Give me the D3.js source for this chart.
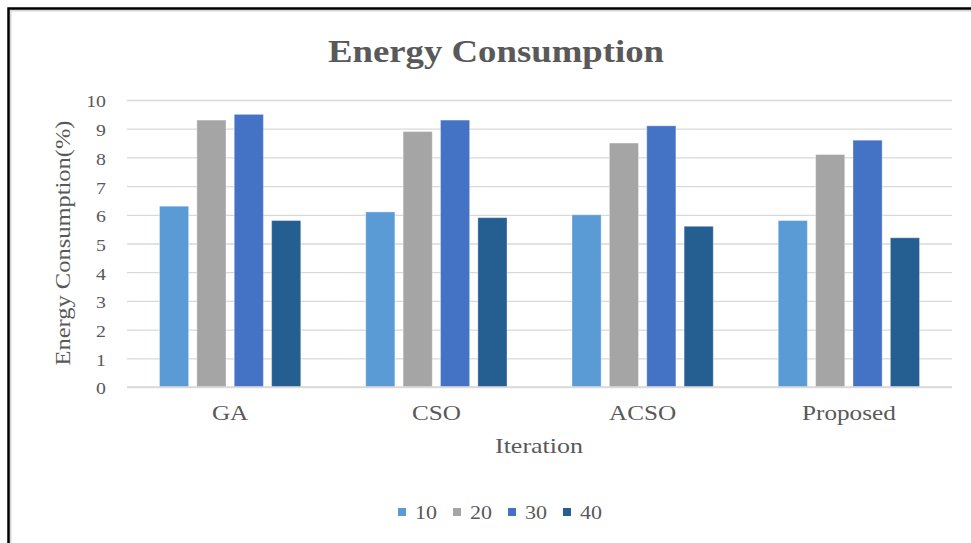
<!DOCTYPE html>
<html><head><meta charset="utf-8">
<script src="https://cdn.jsdelivr.net/npm/d3@7"></script>
<style>body{margin:0;background:#fff;}svg{display:block;font-family:"Liberation Serif","Times New Roman",serif;}</style>
</head><body>
<svg id="c" width="971" height="543"></svg>
<script>
const categories = ["GA", "CSO", "ACSO", "Proposed"];
const seriesNames = ["10", "20", "30", "40"];
const s10 = [6.3, 6.1, 6.0, 5.8];
const s20 = [9.3, 8.9, 8.5, 8.1];
const s30 = [9.5, 9.3, 9.1, 8.6];
const s40 = [5.8, 5.9, 5.6, 5.2];
const yTicks = [0,1,2,3,4,5,6,7,8,9,10];
const colors = ["#5B9BD5", "#A5A5A5", "#4472C4", "#255E91"];
const series = [s10, s20, s30, s40];
const FONT = "Liberation Serif";
const TXT = "#595959";

const svg = d3.select("#c");
// frame
svg.append("rect").attr("x",10.5).attr("y",10.5).attr("width",970).attr("height",540).attr("fill","none").attr("stroke","#d6d6d6").attr("stroke-width",2);
svg.append("path").attr("d","M8.5,543 V8.5 H971").attr("fill","none").attr("stroke","#000").attr("stroke-width",2.5);

const L=127, R=952, T=100, B=387;
const x0 = d3.scaleBand().domain(categories).range([L,R]).paddingInner(0.315).paddingOuter(0.1575);
const x1 = d3.scaleBand().domain(seriesNames).range([0,x0.bandwidth()]).paddingInner(0.22);
const y = d3.scaleLinear().domain([0,10]).range([B,T]);

// grid + y ticks
const SX = 1.2;
const yAxis = d3.axisLeft(y).tickValues(yTicks).tickSize(-(R-L)).tickFormat(d3.format("d"));
const gy = svg.append("g").attr("transform",`translate(${L},0)`).call(yAxis);
gy.attr("font-family",FONT);
gy.select(".domain").remove();
gy.selectAll(".tick line").attr("stroke","#d9d9d9").attr("stroke-width",1.3);
gy.selectAll(".tick text").attr("x",-21/SX).attr("dy","0.42em").attr("transform",`scale(${SX},1)`)
  .attr("fill",TXT).attr("font-size","16.5px").attr("font-family",FONT);

// bars
const g = svg.append("g");
categories.forEach((c,i)=>{
  series.forEach((s,j)=>{
    g.append("rect")
      .attr("x", x0(c)+x1(seriesNames[j]))
      .attr("y", y(s[i]))
      .attr("width", x1.bandwidth())
      .attr("height", B - y(s[i]))
      .attr("fill", colors[j])
      .attr("stroke","#ffffff").attr("stroke-opacity",0.35).attr("stroke-width",1);
  });
});

// x axis
const xAxis = d3.axisBottom(x0).tickSize(0);
const gx = svg.append("g").attr("transform",`translate(0,${B})`).call(xAxis);
gx.attr("font-family",FONT);
gx.select(".domain").attr("stroke","#d9d9d9").attr("stroke-width",1.3).attr("d",`M${L},0H${R}`);
gx.selectAll(".tick text").attr("y",33).attr("dy",0).attr("transform",`scale(${SX},1)`)
  .attr("fill",TXT).attr("font-size","21px").attr("font-family",FONT);

// title
svg.append("text").attr("x",496).attr("y",62).attr("text-anchor","middle")
  .attr("font-size","32px").attr("font-weight","bold").attr("fill",TXT)
  .attr("textLength",336).attr("lengthAdjust","spacingAndGlyphs").text("Energy Consumption");

// axis titles
svg.append("text").attr("x",539).attr("y",453).attr("text-anchor","middle")
  .attr("font-size","22px").attr("fill",TXT)
  .attr("textLength",88).attr("lengthAdjust","spacingAndGlyphs").text("Iteration");
svg.append("text").attr("transform","translate(70,243) rotate(-90)").attr("text-anchor","middle")
  .attr("font-size","22px").attr("fill",TXT)
  .attr("textLength",245).attr("lengthAdjust","spacingAndGlyphs").text("Energy Consumption(%)");

// legend
seriesNames.forEach((n,j)=>{
  const lx = 398 + 55*j;
  svg.append("rect").attr("x",lx).attr("y",508).attr("width",8).attr("height",8).attr("fill",colors[j]);
  svg.append("text").attr("x",lx+17).attr("y",519).attr("font-size","19px").attr("fill",TXT)
    .attr("textLength",22).attr("lengthAdjust","spacingAndGlyphs").text(n);
});
</script>
</body></html>
